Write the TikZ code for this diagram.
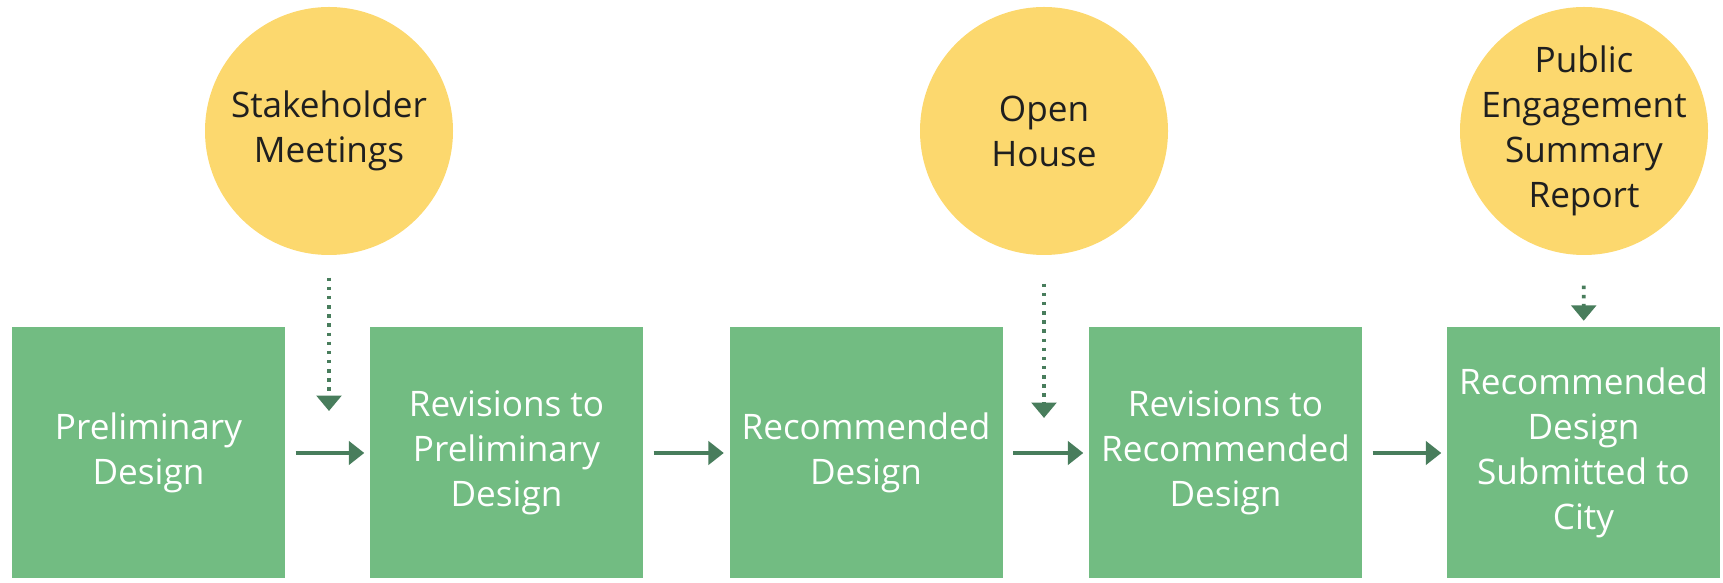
\documentclass[tikz,border=0pt]{standalone}
\usepackage{fontspec}
\setmainfont{Open Sans}
\usepackage{tikz}
\usepackage{xcolor}
\usetikzlibrary{arrows.meta,positioning}
\definecolor{boxgreen}{RGB}{114,188,130}
\definecolor{sunyellow}{RGB}{252,216,110}
\definecolor{arrowgreen}{RGB}{72,125,92}

\begin{document}
\begin{tikzpicture}[
		stagebox/.style={fill=boxgreen, minimum width=2.73cm, minimum height=2.51cm,
			text=white, align=center, font=\fontsize{10}{12.8}\selectfont},
		event/.style={circle, fill=sunyellow, minimum size=2.48cm, inner sep=-0.1cm,
			text=black!88, align=center, font=\fontsize{10}{12.8}\selectfont},
		flow/.style={-{Triangle[length=4.4pt,width=6.6pt]}, line width=1.2pt, color=arrowgreen,
			shorten <=0.1cm, shorten >=0.05cm},
		feed/.style={-{Triangle[length=4.4pt,width=7pt]}, line width=1.1pt, color=arrowgreen,
			dash pattern=on 1pt off 1.6pt}
	]
		\useasboundingbox (0,0) rectangle (17.23,5.83);
		% stages
		\node[stagebox] (prelim) at (1.485,1.3) {Preliminary\\Design};
		\node[stagebox] (revprelim) at (5.065,1.3) {Revisions to\\Preliminary\\Design};
		\node[stagebox] (recom) at (8.66,1.3) {Recommended\\Design};
		\node[stagebox] (revrecom) at (12.255,1.3) {Revisions to\\Recommended\\Design};
		\node[stagebox] (submit) at (15.835,1.3) {Recommended\\Design\\Submitted to\\City};
		% engagement
		\node[event] (meet) at (3.29,4.52) {Stakeholder\\Meetings};
		\node[event] (house) at (10.44,4.52) {Open\\House};
		\node[event] (report) at (15.84,4.52) {Public\\Engagement\\Summary\\Report};
		\coordinate (meetend) at (3.29,1.72);
		\coordinate (houseend) at (10.44,1.65);
		% arrows
		\draw[flow] (prelim) -- (revprelim);
		\draw[flow] (revprelim) -- (recom);
		\draw[flow] (recom) -- (revrecom);
		\draw[flow] (revrecom) -- (submit);
		\draw[feed, shorten <=0.22cm] (meet) -- (meetend);
		\draw[feed, shorten <=0.28cm] (house) -- (houseend);
		\draw[feed, shorten <=0.3cm, shorten >=0.06cm] (report) -- (submit);
	\end{tikzpicture}
\end{document}
